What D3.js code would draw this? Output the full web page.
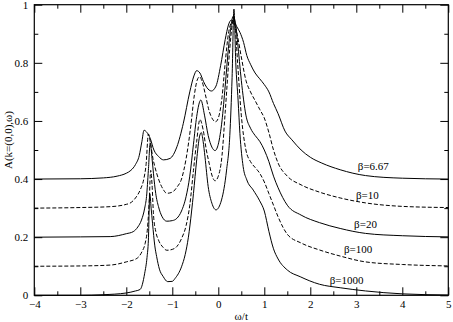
<!DOCTYPE html>
<html><head><meta charset="utf-8">
<script src="https://cdn.jsdelivr.net/npm/d3@7"></script>
<style>
body{margin:0;background:#fff;}
svg{display:block;}
svg text{font-family:"Liberation Serif","Tinos","Times New Roman","DejaVu Serif",serif !important;fill:#000;}
</style></head>
<body><svg id="c" width="453" height="322"></svg>
<script>
// ---- data ----
const xTicks = [-4,-3,-2,-1,0,1,2,3,4,5];
const yTicks = [0,0.2,0.4,0.6,0.8,1];
const yTickLabels = ["0","0.2","0.4","0.6","0.8","1"];
const seriesNames = ["β=6.67","β=10","β=20","β=100","β=1000"];
const seriesDashed = [false,true,false,true,false];

const wB667 = [-4,-3,-2.5,-2.2,-2.0,-1.9,-1.8,-1.72,-1.66,-1.615,-1.55,-1.48,-1.4,-1.3,-1.19,-1.05,-0.9,-0.76,-0.62,-0.53,-0.47,-0.4,-0.32,-0.25,-0.15,-0.05,0.05,0.15,0.22,0.28,0.34,0.4,0.47,0.55,0.62,0.7,0.8,0.9,1.0,1.1,1.2,1.3,1.45,1.6,1.8,2.0,2.25,2.65,3.2,4.0,5.0];
const aB667 = [0.400,0.401,0.404,0.41,0.42,0.43,0.45,0.48,0.53,0.568,0.56,0.54,0.50,0.478,0.466,0.471,0.511,0.592,0.70,0.755,0.773,0.765,0.735,0.715,0.703,0.72,0.79,0.88,0.93,0.947,0.942,0.925,0.905,0.87,0.825,0.795,0.765,0.745,0.725,0.70,0.66,0.625,0.565,0.535,0.50,0.475,0.455,0.432,0.412,0.403,0.400];

const wB10 = [-4,-3,-2.35,-2.0,-1.92,-1.8,-1.7,-1.62,-1.57,-1.52,-1.47,-1.42,-1.38,-1.3,-1.2,-1.12,-1.0,-0.9,-0.8,-0.7,-0.6,-0.52,-0.46,-0.41,-0.35,-0.28,-0.2,-0.12,-0.06,0.0,0.08,0.15,0.22,0.3,0.36,0.42,0.5,0.6,0.7,0.8,0.9,1.0,1.1,1.2,1.3,1.5,1.8,2.2,2.65,3.2,4.0,5.0];
const aB10 = [0.300,0.302,0.305,0.313,0.317,0.335,0.362,0.40,0.45,0.555,0.52,0.47,0.443,0.40,0.365,0.351,0.355,0.372,0.40,0.47,0.58,0.69,0.74,0.752,0.735,0.69,0.635,0.605,0.597,0.61,0.68,0.80,0.90,0.94,0.93,0.89,0.82,0.74,0.70,0.67,0.64,0.61,0.56,0.50,0.455,0.41,0.38,0.355,0.335,0.318,0.306,0.302];

const wB20 = [-4,-3,-2.35,-2.0,-1.85,-1.75,-1.67,-1.6,-1.56,-1.52,-1.48,-1.44,-1.41,-1.36,-1.3,-1.22,-1.12,-1.0,-0.9,-0.8,-0.7,-0.62,-0.54,-0.47,-0.38,-0.3,-0.22,-0.14,-0.07,0.0,0.08,0.15,0.22,0.28,0.32,0.37,0.42,0.5,0.6,0.7,0.8,0.9,1.0,1.1,1.2,1.3,1.5,1.8,2.2,2.65,3.2,4.0,5.0];
const aB20 = [0.200,0.201,0.202,0.212,0.219,0.235,0.259,0.30,0.34,0.43,0.525,0.47,0.42,0.35,0.305,0.27,0.255,0.257,0.265,0.29,0.34,0.41,0.52,0.615,0.672,0.62,0.55,0.51,0.498,0.52,0.60,0.72,0.85,0.93,0.96,0.94,0.87,0.74,0.62,0.575,0.55,0.53,0.50,0.46,0.41,0.37,0.31,0.276,0.25,0.23,0.213,0.205,0.201];

const wB100 = [-4,-3,-2.35,-2.0,-1.77,-1.66,-1.59,-1.54,-1.5,-1.47,-1.44,-1.41,-1.36,-1.3,-1.2,-1.12,-1.0,-0.9,-0.8,-0.7,-0.62,-0.54,-0.47,-0.4,-0.33,-0.26,-0.2,-0.14,-0.07,0.0,0.08,0.15,0.25,0.3,0.33,0.37,0.42,0.5,0.6,0.7,0.8,0.9,1.0,1.1,1.2,1.3,1.5,1.8,2.2,2.65,3.2,4.0,5.0];
const aB100 = [0.100,0.101,0.104,0.115,0.127,0.15,0.179,0.23,0.33,0.43,0.38,0.28,0.22,0.19,0.165,0.155,0.158,0.168,0.195,0.24,0.31,0.43,0.53,0.605,0.57,0.50,0.455,0.414,0.394,0.41,0.48,0.63,0.85,0.93,0.955,0.92,0.80,0.62,0.50,0.46,0.44,0.42,0.39,0.35,0.31,0.27,0.21,0.18,0.156,0.135,0.115,0.106,0.101];

const wB1000 = [-4,-3,-2.5,-2.0,-1.8,-1.7,-1.6,-1.55,-1.52,-1.49,-1.46,-1.43,-1.38,-1.34,-1.28,-1.2,-1.1,-1.0,-0.94,-0.8,-0.72,-0.65,-0.58,-0.54,-0.47,-0.41,-0.37,-0.33,-0.29,-0.22,-0.14,-0.05,0.07,0.18,0.25,0.3,0.34,0.38,0.43,0.47,0.54,0.62,0.76,0.9,1.0,1.1,1.2,1.3,1.5,1.78,2.2,2.65,3.2,4.0,5.0];
const aB1000 = [0.000,0.000,0.002,0.008,0.015,0.02,0.076,0.13,0.19,0.35,0.30,0.248,0.17,0.133,0.09,0.065,0.047,0.048,0.058,0.098,0.14,0.2,0.29,0.35,0.466,0.545,0.56,0.53,0.477,0.374,0.317,0.294,0.328,0.431,0.55,0.75,0.985,0.80,0.672,0.557,0.443,0.397,0.362,0.325,0.29,0.22,0.16,0.125,0.087,0.064,0.038,0.026,0.015,0.005,0.001];

const labelAt = [[3.37,0.431],[3.24,0.331],[3.20,0.232],[3.04,0.145],[2.79,0.040]];

// ---- drawing ----
const svg = d3.select("#c");
const L=34.3, R=448.3, T=4.7, B=295.3;
const x = d3.scaleLinear().domain([-4,5]).range([L,R]);
const y = d3.scaleLinear().domain([0,1]).range([B,T]);

const series = [[wB667,aB667],[wB10,aB10],[wB20,aB20],[wB100,aB100],[wB1000,aB1000]];
const line = d3.line().x(d=>x(d[0])).y(d=>y(d[1])).curve(d3.curveMonotoneX);

series.forEach((s,i)=>{
  const pts = s[0].map((w,j)=>[w,s[1][j]]);
  svg.append("path").attr("d",line(pts)).attr("fill","none").attr("stroke","#000")
    .attr("stroke-width",1).attr("stroke-dasharray",seriesDashed[i]?"4,2":null);
});

// axes: major + minor ticks inward on all sides
const xMinor = d3.range(-3.5,5,1);
const yMinor = d3.range(0.1,1,0.2);
function axisGroup(axis, tx, ty){ return svg.append("g").attr("transform",`translate(${tx},${ty})`).call(axis); }
const fs = "11px";
const bx = axisGroup(d3.axisBottom(x).tickValues(xTicks).tickSize(-8).tickPadding(5).tickFormat(d3.format("d")),0,B);
axisGroup(d3.axisBottom(x).tickValues(xMinor).tickSize(-4).tickFormat(""),0,B);
axisGroup(d3.axisTop(x).tickValues(xTicks).tickSize(-8).tickFormat(""),0,T);
axisGroup(d3.axisTop(x).tickValues(xMinor).tickSize(-4).tickFormat(""),0,T);
const ly = axisGroup(d3.axisLeft(y).tickValues(yTicks).tickSize(-8).tickPadding(6).tickFormat((d,i)=>yTickLabels[i]),L,0);
axisGroup(d3.axisLeft(y).tickValues(yMinor).tickSize(-4).tickFormat(""),L,0);
axisGroup(d3.axisRight(y).tickValues(yTicks).tickSize(-8).tickFormat(""),R,0);
axisGroup(d3.axisRight(y).tickValues(yMinor).tickSize(-4).tickFormat(""),R,0);
svg.selectAll(".domain").remove();
svg.selectAll("g").attr("font-family",null);
svg.selectAll(".tick line").attr("stroke","#000").attr("stroke-width",1);
svg.selectAll(".tick text").style("font-size",fs).attr("fill","#000");
bx.selectAll(".tick text").attr("dy","0.71em");

svg.append("rect").attr("x",L).attr("y",T).attr("width",R-L).attr("height",B-T)
  .attr("fill","none").attr("stroke","#000").attr("stroke-width",1.2);

// series labels
seriesNames.forEach((n,i)=>{
  svg.append("text").attr("x",x(labelAt[i][0])).attr("y",y(labelAt[i][1])).attr("text-anchor","middle")
    .style("font-size","11px").text(n);
});

svg.append("text").attr("x",(L+R)/2).attr("y",320).attr("text-anchor","middle").style("font-size","11px").text("ω/t");
svg.append("text").attr("transform","translate(11.5,140) rotate(-90)").attr("text-anchor","middle").style("font-size","11px").text("A(k=(0,0),ω)");
</script></body></html>
